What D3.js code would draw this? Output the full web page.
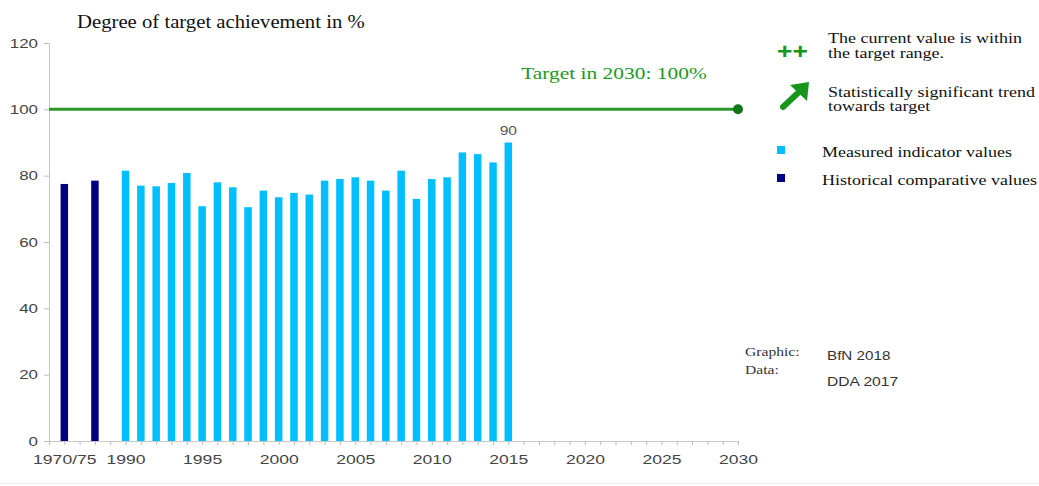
<!DOCTYPE html>
<html><head><meta charset="utf-8">
<script src="https://cdn.jsdelivr.net/npm/d3@7"></script>
<style>body{margin:0;background:#fff}svg{display:block}</style>
</head><body><svg id="c" width="1039" height="486"></svg>
<script>
// Data
const histSlots = [-4, -2];            // positions of 1970 and 1975 comparative values
const histValues = [77.5, 78.5];
const years = d3.range(1990, 2016);
const values = [81.5, 77, 76.8, 77.8, 80.8, 70.8, 78, 76.5, 70.5, 75.5,
                73.5, 74.8, 74.3, 78.5, 79, 79.5, 78.5, 75.5, 81.5, 73,
                79, 79.5, 87, 86.5, 84, 90];
const xTickSlots = [-4, 0, 5, 10, 15, 20, 25, 30, 35, 40];
const xTickLabels = ["1970/75", "1990", "1995", "2000", "2005", "2010", "2015", "2020", "2025", "2030"];
const yTicks = [0, 20, 40, 60, 80, 100, 120];
const target = 100;

const svg = d3.select("#c");
const x = d3.scaleLinear().domain([-5, 40]).range([49, 738]);
const y = d3.scaleLinear().domain([0, 120]).range([441, 43]);
const serif = "'Liberation Serif','Times New Roman',serif";
const sans = "'Liberation Sans',Arial,sans-serif";

// horizontal stretch helper (reference text is wider than the fonts)
function stretch(sel, k) {
  sel.each(function () {
    const w = this.getComputedTextLength();
    d3.select(this).attr("textLength", w * k).attr("lengthAdjust", "spacingAndGlyphs");
  });
  return sel;
}

// bottom faint line
svg.append("line").attr("x1", 0).attr("x2", 1039).attr("y1", 483.5).attr("y2", 483.5)
  .attr("stroke", "#ececec");

// Title
stretch(svg.append("text").attr("x", 77).attr("y", 28).attr("font-family", serif)
  .attr("font-size", 19).attr("fill", "#111").text("Degree of target achievement in %"), 1.09);

// Y axis
const yAxis = d3.axisLeft(y).tickValues(yTicks).tickSize(5).tickPadding(6);
const gy = svg.append("g").attr("transform", "translate(49,0)").call(yAxis);
gy.select(".domain").attr("stroke", "#c8c8c8");
gy.selectAll(".tick line").attr("stroke", "#bbb");
stretch(gy.selectAll(".tick text").attr("font-family", sans).attr("font-size", 13).attr("fill", "#444"), 1.3);

// X axis minor ticks each slot
const xAxisMinor = d3.axisBottom(x).tickValues(d3.range(-5, 41)).tickSize(4).tickFormat("");
const gxm = svg.append("g").attr("transform", `translate(0,${y(0)})`).call(xAxisMinor);
gxm.select(".domain").attr("stroke", "#c8c8c8");
gxm.selectAll(".tick line").attr("stroke", "#bbb");

const xAxis = d3.axisBottom(x).tickValues(xTickSlots).tickSize(0).tickPadding(14)
  .tickFormat((d, i) => xTickLabels[i]);
const gx = svg.append("g").attr("transform", `translate(0,${y(0)})`).call(xAxis);
gx.select(".domain").remove();
stretch(gx.selectAll(".tick text").attr("font-family", sans).attr("font-size", 13).attr("fill", "#444"), 1.35);

// Bars
const bw = 7.5;
svg.append("g").selectAll("rect").data(histValues).join("rect")
  .attr("x", (d, i) => x(histSlots[i]) - bw / 2).attr("width", bw)
  .attr("y", d => y(d)).attr("height", d => y(0) - y(d)).attr("fill", "#000080");
svg.append("g").selectAll("rect").data(values).join("rect")
  .attr("x", (d, i) => x(years[i] - 1990) - bw / 2).attr("width", bw)
  .attr("y", d => y(d)).attr("height", d => y(0) - y(d)).attr("fill", "#00bfff");

// last value label
const lastI = values.length - 1;
stretch(svg.append("text").attr("x", x(years[lastI] - 1990)).attr("y", y(values[lastI]) - 8)
  .attr("text-anchor", "middle").attr("font-family", sans).attr("font-size", 13)
  .attr("fill", "#555").text(values[lastI]), 1.2);

// Target line
svg.append("line").attr("x1", x(-5)).attr("x2", x(40)).attr("y1", y(target)).attr("y2", y(target))
  .attr("stroke", "#2a962a").attr("stroke-width", 3);
svg.append("circle").attr("cx", x(40)).attr("cy", y(target)).attr("r", 5).attr("fill", "#11751a");
stretch(svg.append("text").attr("x", 614).attr("y", 79).attr("text-anchor", "middle")
  .attr("font-family", serif).attr("font-size", 17).attr("fill", "#229922")
  .text("Target in 2030: " + target + "%"), 1.26);

// Legend
const lg = svg.append("g").attr("font-family", serif).attr("font-size", 15).attr("fill", "#111");
stretch(lg.append("text").attr("x", 777).attr("y", 59).attr("font-family", sans).attr("font-weight", "bold")
  .attr("font-size", 22).attr("fill", "#17961c").text("++"), 1.2);
const legendText = [
  [828, 43, "The current value is within"],
  [828, 58, "the target range."],
  [828, 97, "Statistically significant trend"],
  [828, 111, "towards target"],
  [822, 157, "Measured indicator values"],
  [822, 185, "Historical comparative values"]
];
legendText.forEach(t => stretch(lg.append("text").attr("x", t[0]).attr("y", t[1]).text(t[2]), 1.2));
// arrow
lg.append("path").attr("d", "M783,107 L800,91").attr("stroke", "#17961c").attr("stroke-width", 6)
  .attr("stroke-linecap", "round");
lg.append("path").attr("d", "M809,82 L807,101 L790,85 Z").attr("fill", "#17961c");
lg.append("rect").attr("x", 777).attr("y", 146).attr("width", 8).attr("height", 8).attr("fill", "#00bfff");
lg.append("rect").attr("x", 777).attr("y", 174).attr("width", 8).attr("height", 8).attr("fill", "#000080");

// Source
const src = svg.append("g").attr("fill", "#333");
stretch(src.append("text").attr("x", 745).attr("y", 356).attr("font-family", serif).attr("font-size", 12)
  .text("Graphic:"), 1.3);
stretch(src.append("text").attr("x", 745).attr("y", 374).attr("font-family", serif).attr("font-size", 12)
  .text("Data:"), 1.3);
stretch(src.append("text").attr("x", 827).attr("y", 360).attr("font-family", sans).attr("font-size", 13)
  .text("BfN 2018"), 1.17);
stretch(src.append("text").attr("x", 827).attr("y", 386).attr("font-family", sans).attr("font-size", 13)
  .text("DDA 2017"), 1.2);
</script></body></html>
